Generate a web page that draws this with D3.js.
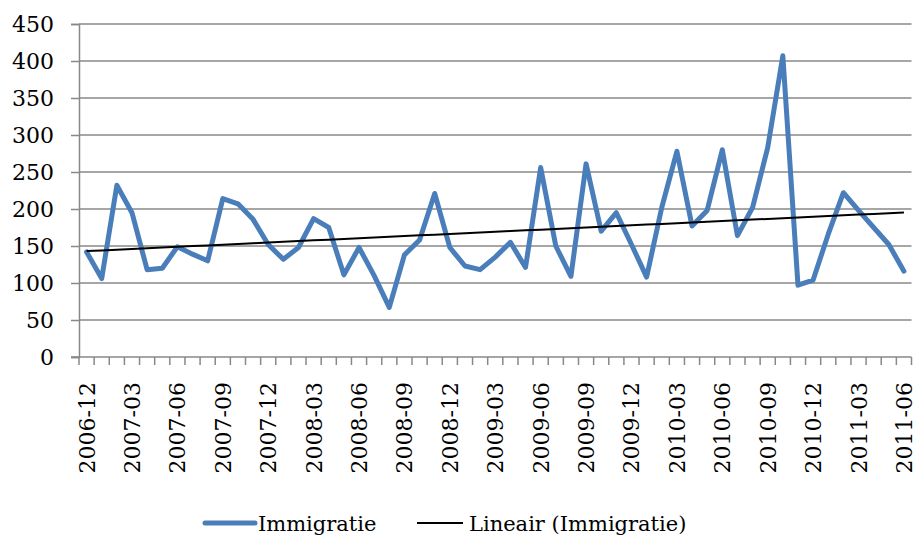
<!DOCTYPE html>
<html>
<head>
<meta charset="utf-8">
<script src="https://cdn.jsdelivr.net/npm/d3@7"></script>
<style>
  body { margin: 0; background: #fff; }
</style>
</head>
<body>
<svg id="chart" width="917" height="546"></svg>
<script>
const months = [
  '2006-12','2007-01','2007-02','2007-03','2007-04','2007-05','2007-06','2007-07','2007-08','2007-09','2007-10','2007-11',
  '2007-12','2008-01','2008-02','2008-03','2008-04','2008-05','2008-06','2008-07','2008-08','2008-09','2008-10','2008-11',
  '2008-12','2009-01','2009-02','2009-03','2009-04','2009-05','2009-06','2009-07','2009-08','2009-09','2009-10','2009-11',
  '2009-12','2010-01','2010-02','2010-03','2010-04','2010-05','2010-06','2010-07','2010-08','2010-09','2010-10','2010-11',
  '2010-12','2011-01','2011-02','2011-03','2011-04','2011-05','2011-06'
];
const immigratie = [
  142,106,232,195,118,120,149,139,130,214,207,186,
  152,132,148,187,175,111,148,110,67,138,158,221,
  148,123,118,135,155,121,256,150,109,261,170,195,
  152,108,202,278,177,198,280,164,202,283,407,97,
  104,166,222,198,175,152,116
];
const tickLabels = ['2006-12','2007-03','2007-06','2007-09','2007-12','2008-03','2008-06','2008-09','2008-12',
  '2009-03','2009-06','2009-09','2009-12','2010-03','2010-06','2010-09','2010-12','2011-03','2011-06'];
const yTicks = [0, 50, 100, 150, 200, 250, 300, 350, 400, 450];

const blue = '#4a7ebb';
const grid = '#888888';
const serif = "'DejaVu Serif', 'Liberation Serif', serif";

const svg = d3.select('#chart');
const m = { left: 79, right: 911.5, top: 24, bottom: 357 };

const x = d3.scaleBand().domain(months).range([m.left, m.right]);
const y = d3.scaleLinear().domain([0, 450]).range([m.bottom, m.top]);
const cx = d => x(d) + x.bandwidth() / 2;

// gridlines
svg.append('g').selectAll('line').data(yTicks.slice(1)).enter().append('line')
  .attr('x1', m.left).attr('x2', m.right)
  .attr('y1', d => y(d)).attr('y2', d => y(d))
  .attr('stroke', grid).attr('stroke-width', 1.5);

// y axis
const yAxis = svg.append('g').attr('transform', `translate(${m.left},0)`)
  .call(d3.axisLeft(y).tickValues(yTicks).tickSize(8).tickPadding(17));
yAxis.attr('font-family', serif).attr('font-size', 22);
yAxis.select('.domain').attr('stroke', grid).attr('stroke-width', 1.5);
yAxis.selectAll('.tick line').attr('stroke', grid).attr('stroke-width', 1.5);
yAxis.selectAll('.tick text').attr('fill', '#000');

// x axis: ticks on band boundaries
const xAxisG = svg.append('g').attr('font-family', serif).attr('font-size', 22);
xAxisG.append('line').attr('x1', m.left - 8).attr('x2', m.right)
  .attr('y1', m.bottom).attr('y2', m.bottom).attr('stroke', grid).attr('stroke-width', 1.5);
xAxisG.selectAll('line.t').data(months.concat(['end'])).enter().append('line')
  .attr('class', 't')
  .attr('x1', (d, i) => i < months.length ? x(d) : m.right)
  .attr('x2', (d, i) => i < months.length ? x(d) : m.right)
  .attr('y1', m.bottom).attr('y2', m.bottom + 8)
  .attr('stroke', grid).attr('stroke-width', 1.5);
xAxisG.selectAll('text').data(tickLabels).enter().append('text')
  .attr('transform', d => `translate(${cx(d) + 8},${m.bottom + 25}) rotate(-90)`)
  .attr('text-anchor', 'end')
  .text(d => d);

// series line
const line = d3.line().x((d, i) => cx(months[i])).y(d => y(d));
svg.append('path').datum(immigratie)
  .attr('d', line)
  .attr('fill', 'none').attr('stroke', blue).attr('stroke-width', 5)
  .attr('stroke-linejoin', 'round').attr('stroke-linecap', 'round');

// linear trend (least squares)
const xs = immigratie.map((d, i) => i + 1);
const mx = d3.mean(xs), my = d3.mean(immigratie);
const slope = d3.sum(xs, (v, i) => (v - mx) * (immigratie[i] - my)) / d3.sum(xs, v => (v - mx) ** 2);
const icpt = my - slope * mx;
const trend = xs.map(v => icpt + slope * v);
svg.append('path').datum(trend)
  .attr('d', line)
  .attr('fill', 'none').attr('stroke', '#000').attr('stroke-width', 2);

// legend
const leg = svg.append('g').attr('transform', 'translate(0,523)')
  .attr('font-family', serif).attr('font-size', 21);
leg.append('line').attr('x1', 205).attr('x2', 255).attr('y1', 0).attr('y2', 0)
  .attr('stroke', blue).attr('stroke-width', 5).attr('stroke-linecap', 'round');
leg.append('text').attr('x', 258).attr('y', 8).text('Immigratie');
leg.append('line').attr('x1', 417).attr('x2', 463).attr('y1', 0).attr('y2', 0)
  .attr('stroke', '#000').attr('stroke-width', 2);
leg.append('text').attr('x', 469).attr('y', 8).text('Lineair (Immigratie)');
</script>
</body>
</html>
